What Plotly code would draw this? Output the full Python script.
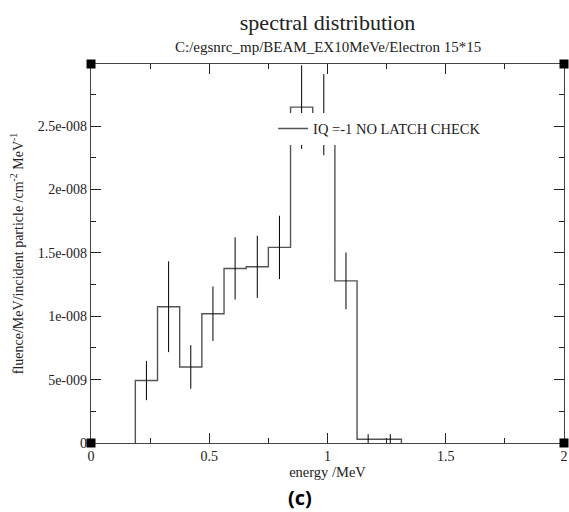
import plotly.graph_objects as go

# ---- data ----
bin_edges = [0.1875, 0.28125, 0.375, 0.46875, 0.5625, 0.65625, 0.75,
             0.84375, 0.9375, 1.03125, 1.125, 1.21875, 1.3125]
fluence = [4.93e-9, 1.075e-8, 6.0e-9, 1.02e-8, 1.377e-8, 1.39e-8, 1.543e-8,
           2.65e-8, 2.59e-8, 1.279e-8, 3.0e-10, 3.0e-10]
fluence_err = [1.55e-9, 3.58e-9, 1.72e-9, 2.15e-9, 2.45e-9, 2.45e-9, 2.5e-9,
               3.3e-9, 3.2e-9, 2.24e-9, 4.0e-10, 4.0e-10]

y_tickvals = [0, 5e-9, 1e-8, 1.5e-8, 2e-8, 2.5e-8]
y_ticktext = ["0", "5e-009", "1e-008", "1.5e-008", "2e-008", "2.5e-008"]
x_range = [0, 2]
y_range = [0, 2.99e-8]

legend_label = "IQ =-1 NO LATCH CHECK"
title_text = "spectral distribution"
subtitle_text = "C:/egsnrc_mp/BEAM_EX10MeVe/Electron 15*15"

# ---- build ----
centers = [(bin_edges[i] + bin_edges[i + 1]) / 2 for i in range(len(fluence))]
step_x = [bin_edges[0]] + bin_edges
step_y = [0] + fluence + [0]

serif = "Liberation Serif"

fig = go.Figure()
fig.add_trace(go.Scatter(
    x=step_x, y=step_y, mode="lines", line_shape="hv",
    line=dict(color="#555555", width=1.4),
    name=legend_label, showlegend=True,
))
fig.add_trace(go.Scatter(
    x=centers, y=fluence, mode="markers",
    marker=dict(size=1, color="rgba(0,0,0,0)"),
    error_y=dict(type="data", array=fluence_err, visible=True,
                 thickness=1, width=0, color="black"),
    showlegend=False, hoverinfo="skip",
))

axis_common = dict(
    showgrid=False, zeroline=False, showline=True, linecolor="#444444",
    linewidth=1.3, mirror="allticks", ticks="inside", ticklen=10,
    tickcolor="#222222", tickwidth=1, automargin=False,
    tickfont=dict(family=serif, size=14, color="#222222"),
)

fig.update_xaxes(
    range=x_range, dtick=0.5, tick0=0,
    minor=dict(ticks="inside", ticklen=5, dtick=0.25, tick0=0,
               tickcolor="#222222", tickwidth=1),
    title=dict(text="energy /MeV", font=dict(family=serif, size=14.5, color="#222222"),
               standoff=2),
    **axis_common,
)
fig.update_yaxes(
    range=y_range, tickmode="array", tickvals=y_tickvals, ticktext=y_ticktext,
    minor=dict(ticks="inside", ticklen=5, tickmode="linear", dtick=2.5e-9, tick0=0,
               tickcolor="#222222", tickwidth=1),
    title=dict(text="fluence/MeV/incident particle /cm<sup>-2</sup> MeV<sup>-1</sup>",
               font=dict(family=serif, size=14, color="#222222"), standoff=10),
    **axis_common,
)

# corner handles
corner_shapes = []
for ax, ay in [(0, 0), (1, 0), (0, 1), (1, 1)]:
    corner_shapes.append(dict(
        type="rect", xref="paper", yref="paper",
        xsizemode="pixel", ysizemode="pixel", xanchor=ax, yanchor=ay,
        x0=-4.5, x1=4.5, y0=-4.5, y1=4.5,
        fillcolor="black", line=dict(width=0), layer="above",
    ))

fig.update_layout(
    width=569, height=512,
    margin=dict(l=91, r=5, t=64, b=69, autoexpand=False),
    paper_bgcolor="white", plot_bgcolor="white",
    title=dict(
        text=title_text, x=0.5, xref="paper", xanchor="center",
        y=1 - 22 / 512, yref="container", yanchor="middle", automargin=False,
        font=dict(family=serif, size=22, color="#222222"),
    ),
    legend=dict(
        x=0.385, y=0.872, xanchor="left", yanchor="top",
        bgcolor="white", borderwidth=0,
        font=dict(family=serif, size=14.5, color="#222222"),
        itemwidth=30,
    ),
    shapes=corner_shapes,
    annotations=[
        dict(text=subtitle_text, xref="paper", yref="paper", x=0.5, y=1 + (64.3 - 47) / 378.4,
             xanchor="center", yanchor="middle", showarrow=False,
             font=dict(family=serif, size=15, color="#222222")),
        dict(text="<b>(c)</b>", xref="paper", yref="paper", x=0.442, y=-0.1435,
             xanchor="center", yanchor="middle", showarrow=False,
             font=dict(family="Open Sans", size=20, color="black")),
    ],
)

fig.write_html("out.html", config={"displayModeBar": False},
               post_script="document.body.style.margin='0';")
